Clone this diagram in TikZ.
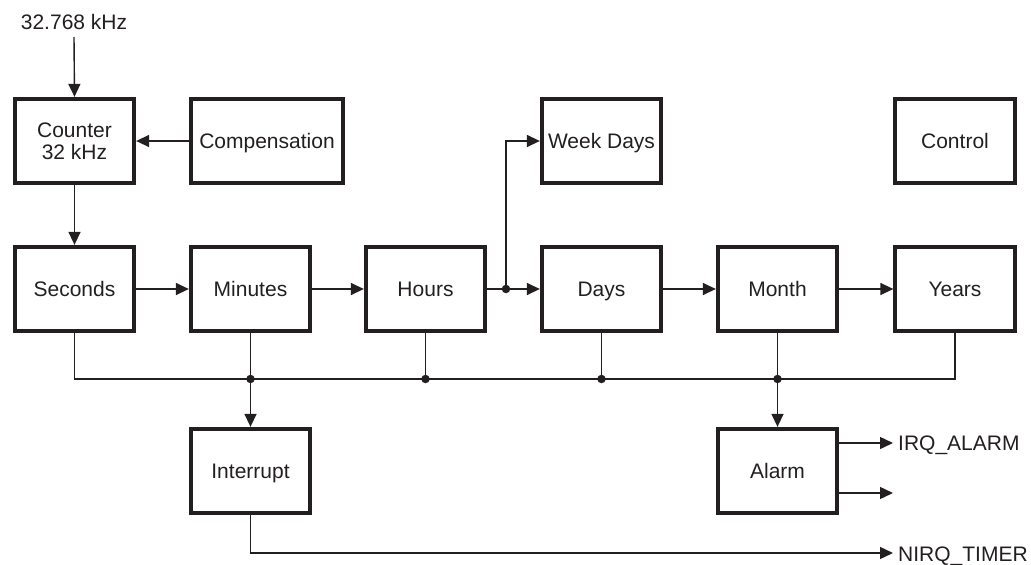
\documentclass[tikz,border=0pt]{standalone}
\usepackage{fontspec}
\setmainfont{Liberation Sans}
\usetikzlibrary{arrows.meta}
\definecolor{ink}{HTML}{231F20}
\begin{document}
\begin{tikzpicture}[x=1pt,y=-1pt,
  font=\fontsize{21}{23}\selectfont,
  box/.style={draw=ink,line width=3.8pt,minimum width=119.5pt,minimum height=84.5pt,inner sep=0pt,align=center,text=ink},
  one/.style={text height=15.5pt,text depth=0pt},
  wire/.style={draw=ink,line width=1.4pt},
  arr/.style={wire,-{Triangle[length=13pt,width=12pt]}},
  lbl/.style={text=ink,inner sep=0pt,text height=15.5pt,text depth=0pt},
  dot/.style={circle,fill=ink,inner sep=0pt,minimum size=8.5pt}]
\useasboundingbox (0,0) rectangle (1031,565);
% top row
\node[box] (cnt) at (74.5,141) {Counter\\[-1pt]32 kHz};
\node[box,one,minimum width=152.5pt] (comp) at (267,141) {Compensation};
\node[box,one] (wd) at (601.5,141) {Week Days};
\node[box,one] (ctl) at (955,141) {Control};
% middle row
\node[box,one] (sec) at (74.5,289) {Seconds};
\node[box,one] (min) at (250.5,289) {Minutes};
\node[box,one] (hrs) at (425.5,289) {Hours};
\node[box,one] (days) at (601.5,289) {Days};
\node[box,one] (mon) at (777.5,289) {Month};
\node[box,one] (yrs) at (955,289) {Years};
% bottom row
\node[box,one] (intr) at (250.5,471) {Interrupt};
\node[box,one] (alm) at (777.5,471) {Alarm};
% input
\node[lbl] (freq) at (74,22) {32.768 kHz};
\coordinate (fin) at (74,37);
\draw[arr] (fin) -- (cnt.north);
\draw[arr] (comp.west) -- (cnt.east);
\draw[arr] (cnt.south) -- (sec.north);
% chain
\draw[arr] (sec.east) -- (min.west);
\draw[arr] (min.east) -- (hrs.west);
\draw[arr] (hrs.east) -- (days.west);
\draw[arr] (days.east) -- (mon.west);
\draw[arr] (mon.east) -- (yrs.west);
\coordinate (br) at (506,289);
\draw[arr] (br) |- (wd.west);
\node[dot] (brdot) at (br) {};
% bus
\coordinate (bus) at (0,379);
\draw[wire] (sec.south) -- (sec.south |- bus) -- (yrs.south |- bus) -- (yrs.south);
\draw[wire] (hrs.south) -- (hrs.south |- bus);
\draw[wire] (days.south) -- (days.south |- bus);
\draw[arr] (min.south) -- (intr.north);
\draw[arr] (mon.south) -- (alm.north);
\node[dot] (d1) at (min.south |- bus) {};
\node[dot] (d2) at (hrs.south |- bus) {};
\node[dot] (d3) at (days.south |- bus) {};
\node[dot] (d4) at (mon.south |- bus) {};
% outputs
\coordinate (irqE) at (893,443);
\coordinate (outE) at (893,493);
\coordinate (nqE) at (893,553);
\draw[arr] (alm.east |- irqE) -- (irqE);
\draw[arr] (alm.east |- outE) -- (outE);
\draw[arr] (intr.south) |- (nqE);
\node[lbl,anchor=west] (irq) at ([xshift=5pt]irqE) {IRQ\_ALARM};
\node[lbl,anchor=west] (nirq) at ([xshift=5pt,yshift=-0.5pt]nqE) {NIRQ\_TIMER};
\end{tikzpicture}
\end{document}
